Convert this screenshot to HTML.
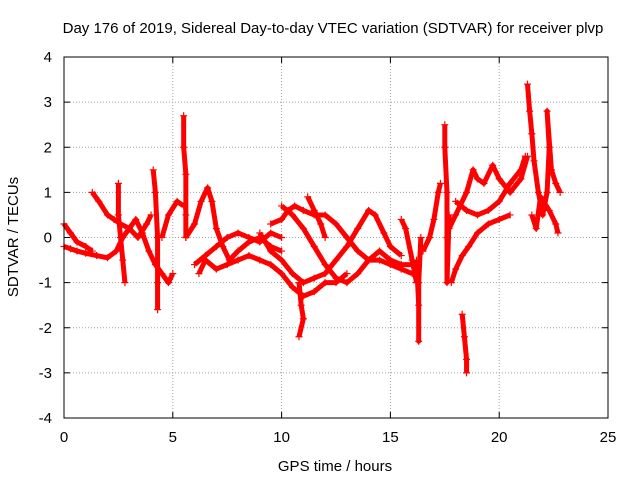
<!DOCTYPE html>
<html><head><meta charset="utf-8"><style>
body{margin:0;background:#fff}
svg text{font-family:"Liberation Sans",sans-serif;font-size:15px;fill:#000}
</style></head><body>
<svg id="chart" width="640" height="480">
<text x="333" y="33" text-anchor="middle">Day 176 of 2019, Sidereal Day-to-day VTEC variation (SDTVAR) for receiver plvp</text>
<text x="335" y="471" text-anchor="middle">GPS time / hours</text>
<text transform="translate(18,237) rotate(-90)" text-anchor="middle">SDTVAR / TECUs</text>
<g id="grid"></g><g id="marks"></g>
<rect x="64" y="57" width="544" height="361" fill="none" stroke="#000"/>
</svg>
<script>
const xTicks=[0,5,10,15,20,25];
const yTicks=[-4,-3,-2,-1,0,1,2,3,4];
const tracks=[
[[0,-0.2],[0.3,-0.25],[0.6,-0.3],[1,-0.35],[1.5,-0.4],[2,-0.45],[2.4,-0.3],[2.7,0],[3,0.2],[3.3,0.4],[3.6,0.1],[3.9,-0.3],[4.2,-0.6],[4.5,-0.8],[4.8,-1.0],[5.0,-0.8]],
[[0,0.3],[0.3,0.1],[0.6,-0.1],[1,-0.2],[1.3,-0.3]],
[[1.3,1.0],[1.6,0.8],[2,0.5],[2.3,0.4],[2.6,0.3],[3,0.2],[3.4,0.0],[3.8,0.3],[4,0.5]],
[[2.5,1.2],[2.5,0.5],[2.6,0],[2.7,-0.5],[2.8,-1.0]],
[[4.1,1.5],[4.2,1.0],[4.3,0],[4.3,-1.0],[4.3,-1.6]],
[[4.5,0],[4.8,0.5],[5.2,0.8],[5.5,0.7]],
[[5.5,2.7],[5.5,2.0],[5.6,1.4],[5.6,0.5],[5.6,0]],
[[5.6,0],[6,0.3],[6.3,0.8],[6.6,1.1],[6.8,0.8],[7,0.2],[7.3,-0.2],[7.6,-0.5],[8,-0.3],[8.5,-0.1],[9,0],[9.5,-0.2],[10,-0.3]],
[[6,-0.6],[6.5,-0.4],[7,-0.2],[7.5,0],[8,0.1],[8.5,0],[9,-0.1],[9.5,0.1],[10,0]],
[[6.2,-0.8],[6.5,-0.5],[7,-0.7],[7.5,-0.6],[8,-0.5],[8.5,-0.4],[9,-0.5],[9.5,-0.6],[10,-0.8],[10.5,-1.1],[11,-1.3],[11.5,-1.2],[12,-1.0],[12.5,-1.0],[13,-0.8]],
[[9.5,0.3],[10,0.4],[10.3,0.6],[10.6,0.7],[11,0.6],[11.5,0.5],[12,0.5],[12.5,0.3],[13,0],[13.5,-0.3],[14,-0.5],[14.5,-0.5],[15,-0.6],[15.5,-0.7],[16,-0.8]],
[[9,0.1],[9.5,-0.3],[10,-0.5],[10.5,-0.8],[11,-1.0],[11.5,-0.9],[12,-0.8],[12.5,-0.5],[13,-0.2],[13.5,0.2],[14,0.6],[14.3,0.5],[14.7,0.1],[15,-0.2],[15.5,-0.4]],
[[10,0.7],[10.5,0.5],[11,0.2],[11.5,-0.2],[12,-0.6],[12.5,-0.9],[13,-1.0],[13.5,-0.8],[14,-0.5],[14.5,-0.3],[15,-0.5],[15.5,-0.6],[16,-0.6]],
[[10.8,-1.0],[10.9,-1.5],[11,-1.8],[10.8,-2.2]],
[[11.2,0.9],[11.5,0.6],[11.8,0.3],[12,0]],
[[15.5,0.4],[15.7,0.2],[16,-0.5],[16.2,-1.0]],
[[16.2,-0.5],[16.3,-1.5],[16.3,-2.3],[16.3,-1.0],[16.4,0]],
[[16.5,-0.3],[16.8,0],[17,0.4],[17.2,1.0],[17.3,1.2]],
[[17.5,2.5],[17.5,2.0],[17.6,1.0],[17.6,0],[17.6,-1.0],[17.7,0.5]],
[[17.8,-1.0],[18,-0.7],[18.3,-0.4],[18.6,-0.2],[19,0.1],[19.5,0.3],[20,0.4],[20.5,0.5]],
[[18,0.8],[18.5,0.6],[19,0.5],[19.5,0.6],[20,0.8],[20.5,1.2],[21,1.5],[21.2,1.8]],
[[17.7,0.2],[18,0.5],[18.5,1.0],[18.8,1.5],[19,1.3],[19.3,1.2],[19.7,1.6],[20,1.3],[20.5,1.0],[21,1.3],[21.3,1.8]],
[[18.3,-1.7],[18.4,-2.2],[18.5,-2.7],[18.5,-3.0]],
[[21.3,3.4],[21.4,2.8],[21.5,2.3],[21.6,1.7],[21.8,1.0],[22,0.5],[22.2,1.0],[22.3,2.0],[22.2,2.8],[22.4,1.5],[22.6,1.2],[22.8,1.0]],
[[21.5,0.5],[21.7,0.2],[21.9,0.9],[22.3,0.6],[22.6,0.3],[22.7,0.1]]
];
const X=v=>64+v*544/25, Y=v=>237.5-v*361/8;
const NS="http://www.w3.org/2000/svg";
const svg=document.getElementById('chart'),grid=document.getElementById('grid'),marks=document.getElementById('marks');
function mk(t,a,p){const e=document.createElementNS(NS,t);for(const k in a)e.setAttribute(k,a[k]);p.appendChild(e);return e;}
xTicks.forEach(t=>{
 if(t>0&&t<25){const g=mk('line',{x1:X(t),x2:X(t),y1:57,y2:418,stroke:'#a0a0a0','stroke-dasharray':'1,2'},grid);
 
 }
 mk('line',{x1:X(t),x2:X(t),y1:418,y2:412,stroke:'#000'},grid);
 mk('line',{x1:X(t),x2:X(t),y1:57,y2:63,stroke:'#000'},grid);
 const l=mk('text',{x:X(t),y:442,'text-anchor':'middle'},svg);l.textContent=t;
 
 
});
yTicks.forEach(t=>{
 if(t>-4&&t<4){const g=mk('line',{x1:64,x2:608,y1:Y(t),y2:Y(t),stroke:'#a0a0a0','stroke-dasharray':'1,2'},grid);
 
 }
 mk('line',{x1:64,x2:70,y1:Y(t),y2:Y(t),stroke:'#000'},grid);
 mk('line',{x1:602,x2:608,y1:Y(t),y2:Y(t),stroke:'#000'},grid);
 const l=mk('text',{x:52,y:Y(t)+5,'text-anchor':'end'},svg);l.textContent=t;
 
 
});
tracks.forEach(tr=>{
 const pl=mk('polyline',{points:tr.map(p=>X(p[0])+','+Y(p[1])).join(' '),fill:'none',stroke:'#f00','stroke-width':5,'stroke-linejoin':'round'},marks);
 
 
 tr.forEach(p=>{
  const m=mk('path',{d:`M${X(p[0])-3.5},${Y(p[1])}h7M${X(p[0])},${Y(p[1])-3.5}v7`,stroke:'#f00','stroke-width':1.2},marks);
  
  
 });
});
</script>
</body></html>
